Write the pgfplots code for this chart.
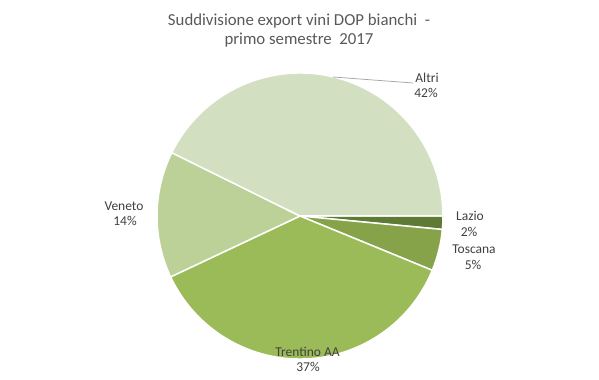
\documentclass[border=0pt]{standalone}
\usepackage{pgfplots}
\pgfplotsset{compat=1.18}
\usepackage{pgfplotstable}
\usepackage{fontspec}
\setmainfont{Carlito}
\definecolor{cLazio}{HTML}{5F7A35}
\definecolor{cToscana}{HTML}{86A34A}
\definecolor{cTrentino}{HTML}{9BBB59}
\definecolor{cVeneto}{HTML}{BCD197}
\definecolor{cAltri}{HTML}{D3DFC1}
\definecolor{txt}{HTML}{404040}
\definecolor{ttl}{HTML}{595959}
\pgfplotstableread{
name value color
Lazio 1.5 cLazio
Toscana 4.7 cToscana
Trentino 36.8 cTrentino
Veneto 14.3 cVeneto
Altri 42.7 cAltri
}\piedata
\newcommand\lbl{\fontsize{13.5bp}{15bp}\selectfont\color{txt}}
\begin{document}
\begin{tikzpicture}
\begin{axis}[scale only axis, width=599bp, height=378bp,
  xmin=0, xmax=599, ymin=0, ymax=378, hide axis, clip=false]
\addplot[draw=none] coordinates {(0,0) (599,378)};
\path (axis cs:0,0) rectangle (axis cs:599,378);
\pgfplotsextra{
  \gdef\cum{0}
  \pgfplotstablegetrowsof{\piedata}
  \pgfmathtruncatemacro\nrows{\pgfplotsretval-1}
  \foreach \i in {0,...,\nrows}{
    \pgfplotstablegetelem{\i}{value}\of\piedata \let\sliceval\pgfplotsretval
    \pgfplotstablegetelem{\i}{color}\of\piedata \let\slicecol\pgfplotsretval
    \pgfmathsetmacro\angA{-\cum*3.6}
    \pgfmathsetmacro\angB{-(\cum+\sliceval)*3.6}
    \fill[\slicecol, draw=white, line width=1.5bp, line join=round]
      (axis cs:300,162) -- ++(\angA:143bp) arc[start angle=\angA, end angle=\angB, radius=143bp] -- cycle;
    \pgfmathsetmacro\newcum{\cum+\sliceval}
    \xdef\cum{\newcum}
  }
}
% leader line
\draw[color=black!35, line width=0.75bp] (axis cs:333,301) -- (axis cs:413,295);
% title
\node[anchor=base, font=\fontsize{16.8bp}{20bp}\selectfont, text=ttl, inner sep=0pt] at (axis cs:299,352.5) {Suddivisione export\ vini DOP bianchi\ \ -};
\node[anchor=base, font=\fontsize{16.8bp}{20bp}\selectfont, text=ttl, inner sep=0pt] at (axis cs:299,333) {primo semestre\ \ 2017};
% labels
\node[anchor=base, inner sep=0pt] at (axis cs:427,295) {\lbl Altri};
\node[anchor=base, inner sep=0pt] at (axis cs:426,280) {\lbl 42\%};
\node[anchor=base, inner sep=0pt] at (axis cs:470,157) {\lbl Lazio};
\node[anchor=base, inner sep=0pt] at (axis cs:469,141) {\lbl 2\%};
\node[anchor=base, inner sep=0pt] at (axis cs:474,124) {\lbl Toscana};
\node[anchor=base, inner sep=0pt] at (axis cs:473,108) {\lbl 5\%};
\node[anchor=base, inner sep=0pt] at (axis cs:124,167) {\lbl Veneto};
\node[anchor=base, inner sep=0pt] at (axis cs:125,152) {\lbl 14\%};
\node[anchor=base, inner sep=0pt] at (axis cs:307.5,21) {\lbl Trentino AA};
\node[anchor=base, inner sep=0pt] at (axis cs:308,6) {\lbl 37\%};
\end{axis}
\end{tikzpicture}
\end{document}
